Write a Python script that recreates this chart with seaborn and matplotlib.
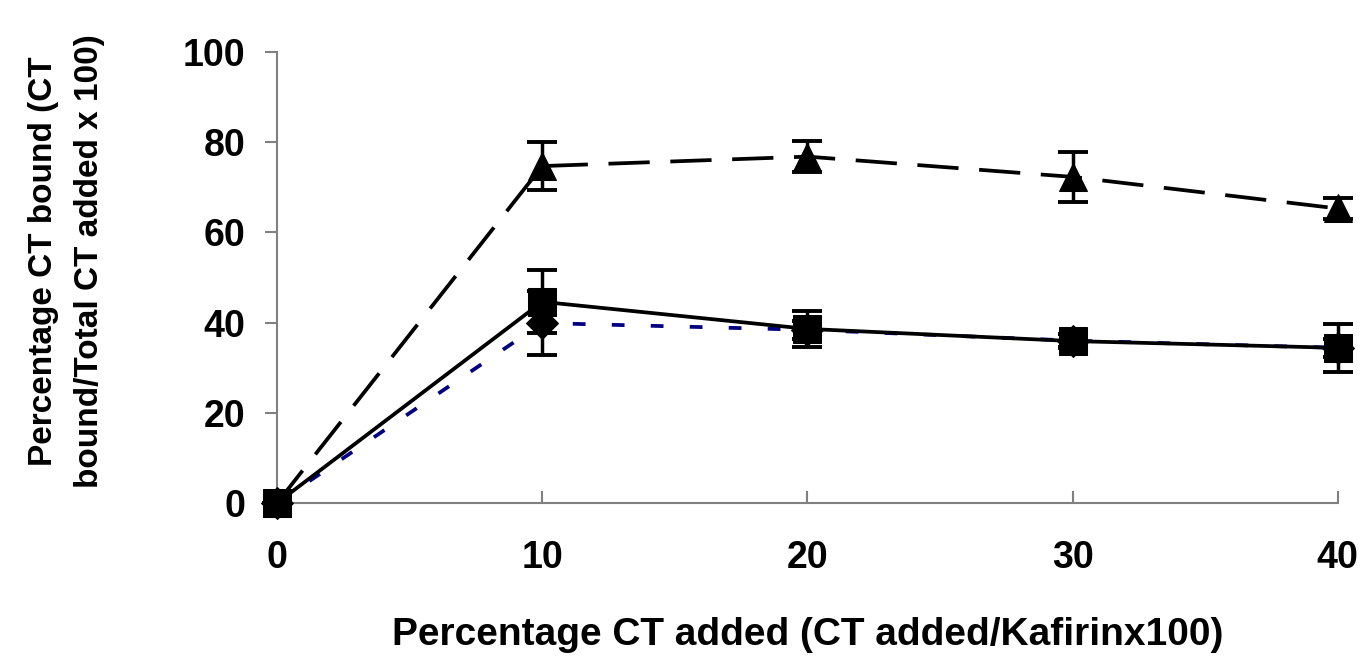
import numpy as np
import pandas as pd
import matplotlib
matplotlib.use("Agg")
import matplotlib.pyplot as plt
import seaborn as sns

# values
ct_added = [0, 10, 20, 30, 40]
diamond_mean = [0, 39.9, 38.4, 36.0, 34.4]
diamond_err = [0, 7.0, 2.0, 1.5, 2.0]
square_mean = [0, 44.6, 38.6, 35.9, 34.4]
square_err = [0, 7.0, 4.0, 1.5, 5.3]
triangle_mean = [0, 74.7, 76.8, 72.3, 65.3]
triangle_err = [0, 5.3, 3.5, 5.5, 2.4]

sns.set_style("white")
plt.rcParams['font.family'] = ['Liberation Sans', 'DejaVu Sans']
plt.rcParams['font.weight'] = 'bold'
plt.rcParams['text.color'] = 'black'
plt.rcParams['axes.labelcolor'] = 'black'
plt.rcParams['xtick.color'] = 'black'
plt.rcParams['ytick.color'] = 'black'

fig = plt.figure(figsize=(13.65, 6.58), dpi=100)
ax = fig.add_axes([0.203, 0.2356, 0.777, 0.6854])

series = [
    (diamond_mean, diamond_err, 'D', 'navy', (0, (3.4, 7.0)), 'Diamond'),
    (square_mean, square_err, 's', 'black', '-', 'Square'),
    (triangle_mean, triangle_err, '^', 'black', (0, (11, 5.5)), 'Triangle'),
]

for i, (mean, err, mk, col, ls, name) in enumerate(series):
    df = pd.DataFrame({'x': ct_added, 'y': mean})
    ax.errorbar(ct_added, mean, yerr=err, fmt='none', ecolor='black',
                elinewidth=2.5, capsize=11, capthick=2.8, zorder=2 + i, clip_on=False)
    sns.lineplot(data=df, x='x', y='y', ax=ax, color=col, linestyle=ls, linewidth=2.7,
                 marker=mk, markersize=20 if mk != 'D' else 16, markerfacecolor='black',
                 markeredgecolor='black', zorder=3 + i, clip_on=False)

ax.set_xlim(0, 40)
ax.set_ylim(0, 100)
ax.set_xticks([0, 10, 20, 30, 40])
ax.set_yticks([0, 20, 40, 60, 80, 100])

for side in ['top', 'right']:
    ax.spines[side].set_visible(False)
for side in ['left', 'bottom']:
    ax.spines[side].set_color('#808080')
    ax.spines[side].set_linewidth(1.5)

ax.tick_params(axis='x', direction='in', length=9, width=1.5, color='#808080',
               labelcolor='black', pad=27, labelsize=27, bottom=True)
ax.tick_params(axis='y', direction='out', length=9, width=1.5, color='#808080',
               labelcolor='black', pad=14, labelsize=27, left=True)

ax.set_xlabel('Percentage CT added (CT added/Kafirinx100)', fontsize=28,
              fontweight='bold', labelpad=29)
ax.set_ylabel('Percentage CT bound (CT\nbound/Total CT added x 100)', fontsize=24,
              fontweight='bold', linespacing=1.65)
ax.yaxis.set_label_coords(-0.162, 0.536)

fig.savefig('out.png', dpi=100)
